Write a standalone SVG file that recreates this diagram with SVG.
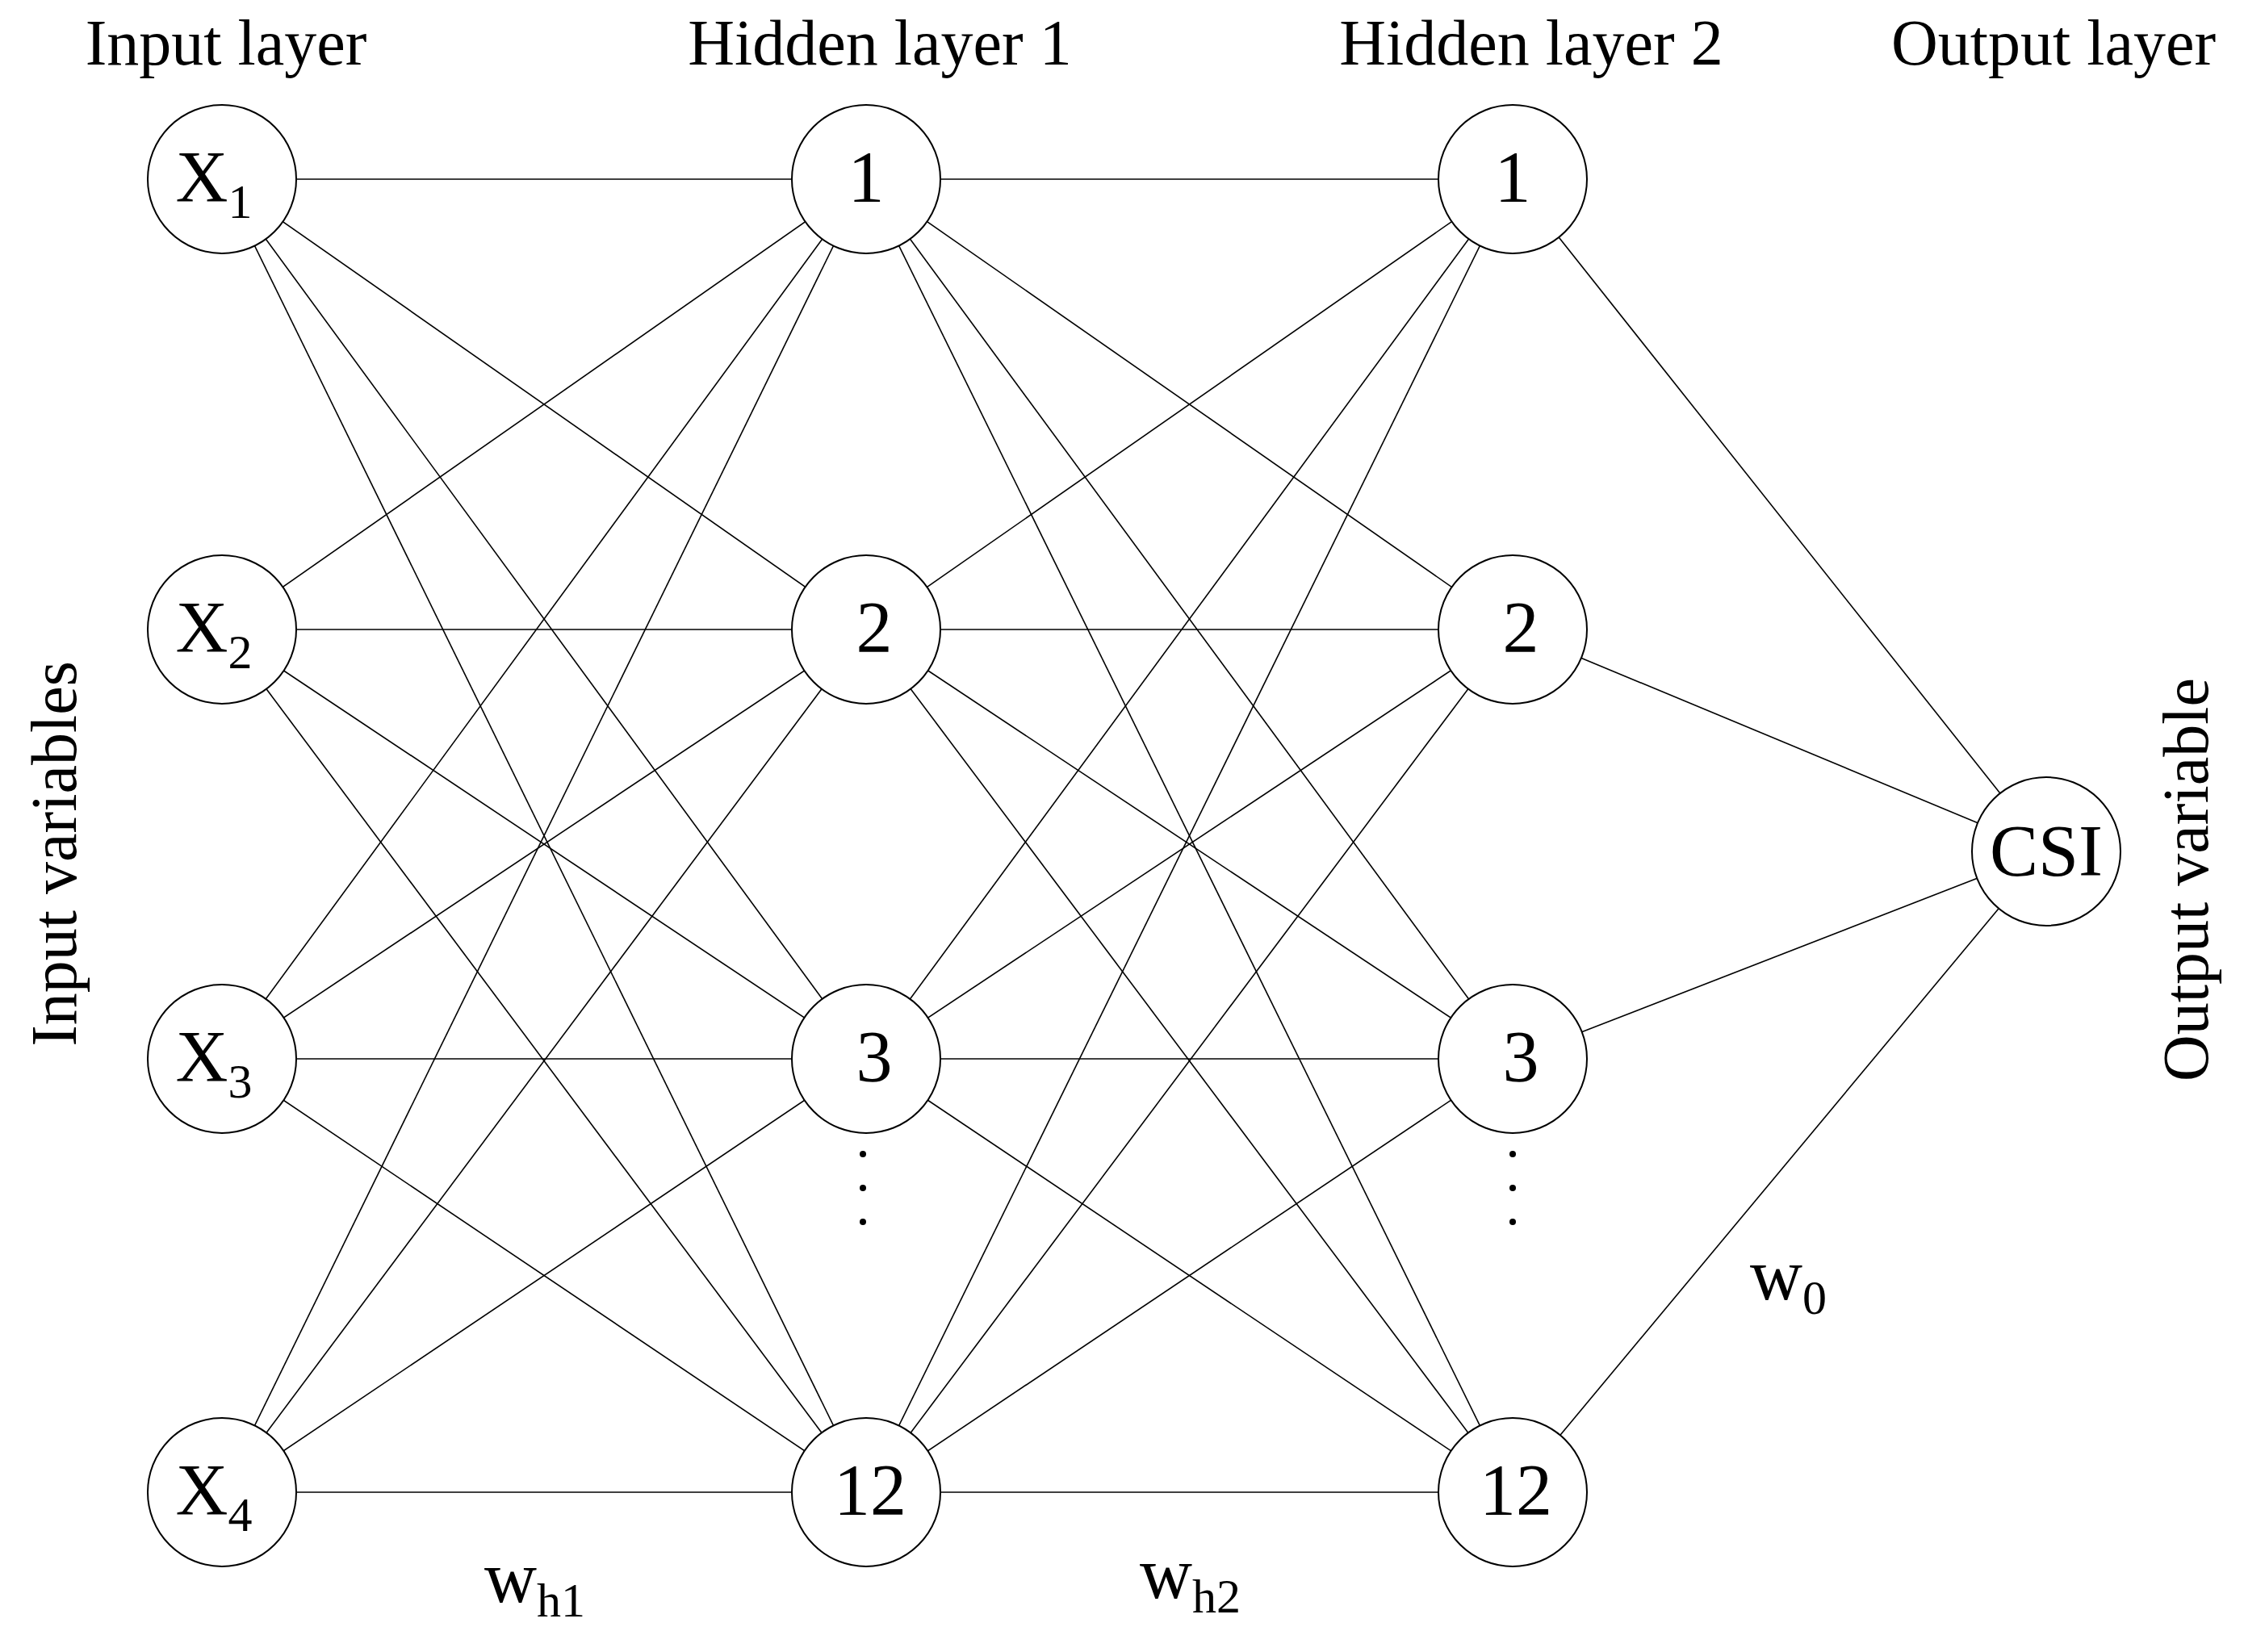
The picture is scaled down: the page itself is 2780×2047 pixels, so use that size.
<svg xmlns="http://www.w3.org/2000/svg" width="2780" height="2047" viewBox="0 0 2780 2047">
<style>
text{font-family:"Liberation Serif","Times New Roman",serif;fill:#000}
.t{font-size:80px;text-anchor:middle}
.n{font-size:90px;text-anchor:middle}
.s{font-size:60px}
line{stroke:#000;stroke-width:1.6}
circle{fill:#fff;stroke:#000;stroke-width:2}
</style>
<rect width="2780" height="2047" fill="#fff"/>
<g id="connectors">
<line x1="275" y1="222" x2="1073" y2="222"/><line x1="275" y1="222" x2="1073" y2="780"/><line x1="275" y1="222" x2="1073" y2="1312"/><line x1="275" y1="222" x2="1073" y2="1849"/>
<line x1="275" y1="780" x2="1073" y2="222"/><line x1="275" y1="780" x2="1073" y2="780"/><line x1="275" y1="780" x2="1073" y2="1312"/><line x1="275" y1="780" x2="1073" y2="1849"/>
<line x1="275" y1="1312" x2="1073" y2="222"/><line x1="275" y1="1312" x2="1073" y2="780"/><line x1="275" y1="1312" x2="1073" y2="1312"/><line x1="275" y1="1312" x2="1073" y2="1849"/>
<line x1="275" y1="1849" x2="1073" y2="222"/><line x1="275" y1="1849" x2="1073" y2="780"/><line x1="275" y1="1849" x2="1073" y2="1312"/><line x1="275" y1="1849" x2="1073" y2="1849"/>
<line x1="1073" y1="222" x2="1874" y2="222"/><line x1="1073" y1="222" x2="1874" y2="780"/><line x1="1073" y1="222" x2="1874" y2="1312"/><line x1="1073" y1="222" x2="1874" y2="1849"/>
<line x1="1073" y1="780" x2="1874" y2="222"/><line x1="1073" y1="780" x2="1874" y2="780"/><line x1="1073" y1="780" x2="1874" y2="1312"/><line x1="1073" y1="780" x2="1874" y2="1849"/>
<line x1="1073" y1="1312" x2="1874" y2="222"/><line x1="1073" y1="1312" x2="1874" y2="780"/><line x1="1073" y1="1312" x2="1874" y2="1312"/><line x1="1073" y1="1312" x2="1874" y2="1849"/>
<line x1="1073" y1="1849" x2="1874" y2="222"/><line x1="1073" y1="1849" x2="1874" y2="780"/><line x1="1073" y1="1849" x2="1874" y2="1312"/><line x1="1073" y1="1849" x2="1874" y2="1849"/>
<line x1="1874" y1="222" x2="2535" y2="1055"/><line x1="1874" y1="780" x2="2535" y2="1055"/><line x1="1874" y1="1312" x2="2535" y2="1055"/><line x1="1874" y1="1849" x2="2535" y2="1055"/>
</g>
<g id="x1"><circle cx="275" cy="222" r="92"/><text class="n" x="265" y="250">X<tspan class="s" dy="20">1</tspan></text></g>
<g id="x2"><circle cx="275" cy="780" r="92"/><text class="n" x="265" y="808">X<tspan class="s" dy="20">2</tspan></text></g>
<g id="x3"><circle cx="275" cy="1312" r="92"/><text class="n" x="265" y="1340">X<tspan class="s" dy="20">3</tspan></text></g>
<g id="x4"><circle cx="275" cy="1849" r="92"/><text class="n" x="265" y="1877">X<tspan class="s" dy="20">4</tspan></text></g>
<g id="h1_1"><circle cx="1073" cy="222" r="92"/><text class="n" x="1073" y="250">1</text></g>
<g id="h1_2"><circle cx="1073" cy="780" r="92"/><text class="n" x="1083" y="808">2</text></g>
<g id="h1_3"><circle cx="1073" cy="1312" r="92"/><text class="n" x="1083" y="1340">3</text></g>
<g id="h1_12"><circle cx="1073" cy="1849" r="92"/><text class="n" x="1078" y="1877">12</text></g>
<g id="h2_1"><circle cx="1874" cy="222" r="92"/><text class="n" x="1874" y="250">1</text></g>
<g id="h2_2"><circle cx="1874" cy="780" r="92"/><text class="n" x="1884" y="808">2</text></g>
<g id="h2_3"><circle cx="1874" cy="1312" r="92"/><text class="n" x="1884" y="1340">3</text></g>
<g id="h2_12"><circle cx="1874" cy="1849" r="92"/><text class="n" x="1878" y="1877">12</text></g>
<g id="csi"><circle cx="2535" cy="1055" r="92"/><text class="n" x="2535" y="1085">CSI</text></g>
<g id="labels">
<text class="t" x="280" y="80">Input layer</text>
<text class="t" x="1090" y="80">Hidden layer 1</text>
<text class="t" x="1897" y="80">Hidden layer 2</text>
<text class="t" x="2544" y="80">Output layer</text>
<text class="t" transform="translate(94,1058) rotate(-90)">Input variables</text>
<text class="t" transform="translate(2735,1090) rotate(-90)">Output variable</text>
<text class="n" x="600" y="1985" style="text-anchor:start">w<tspan class="s" dy="18">h1</tspan></text>
<text class="n" x="1412" y="1980" style="text-anchor:start">w<tspan class="s" dy="18">h2</tspan></text>
<text class="n" x="2168" y="1610" style="text-anchor:start">w<tspan class="s" dy="18">0</tspan></text>
</g>
<g id="dots">
<circle cx="1069" cy="1430" r="4" style="fill:#000;stroke:none"/><circle cx="1069" cy="1472" r="4" style="fill:#000;stroke:none"/><circle cx="1069" cy="1514" r="4" style="fill:#000;stroke:none"/>
<circle cx="1874" cy="1430" r="4" style="fill:#000;stroke:none"/><circle cx="1874" cy="1472" r="4" style="fill:#000;stroke:none"/><circle cx="1874" cy="1514" r="4" style="fill:#000;stroke:none"/>
</g>
</svg>
